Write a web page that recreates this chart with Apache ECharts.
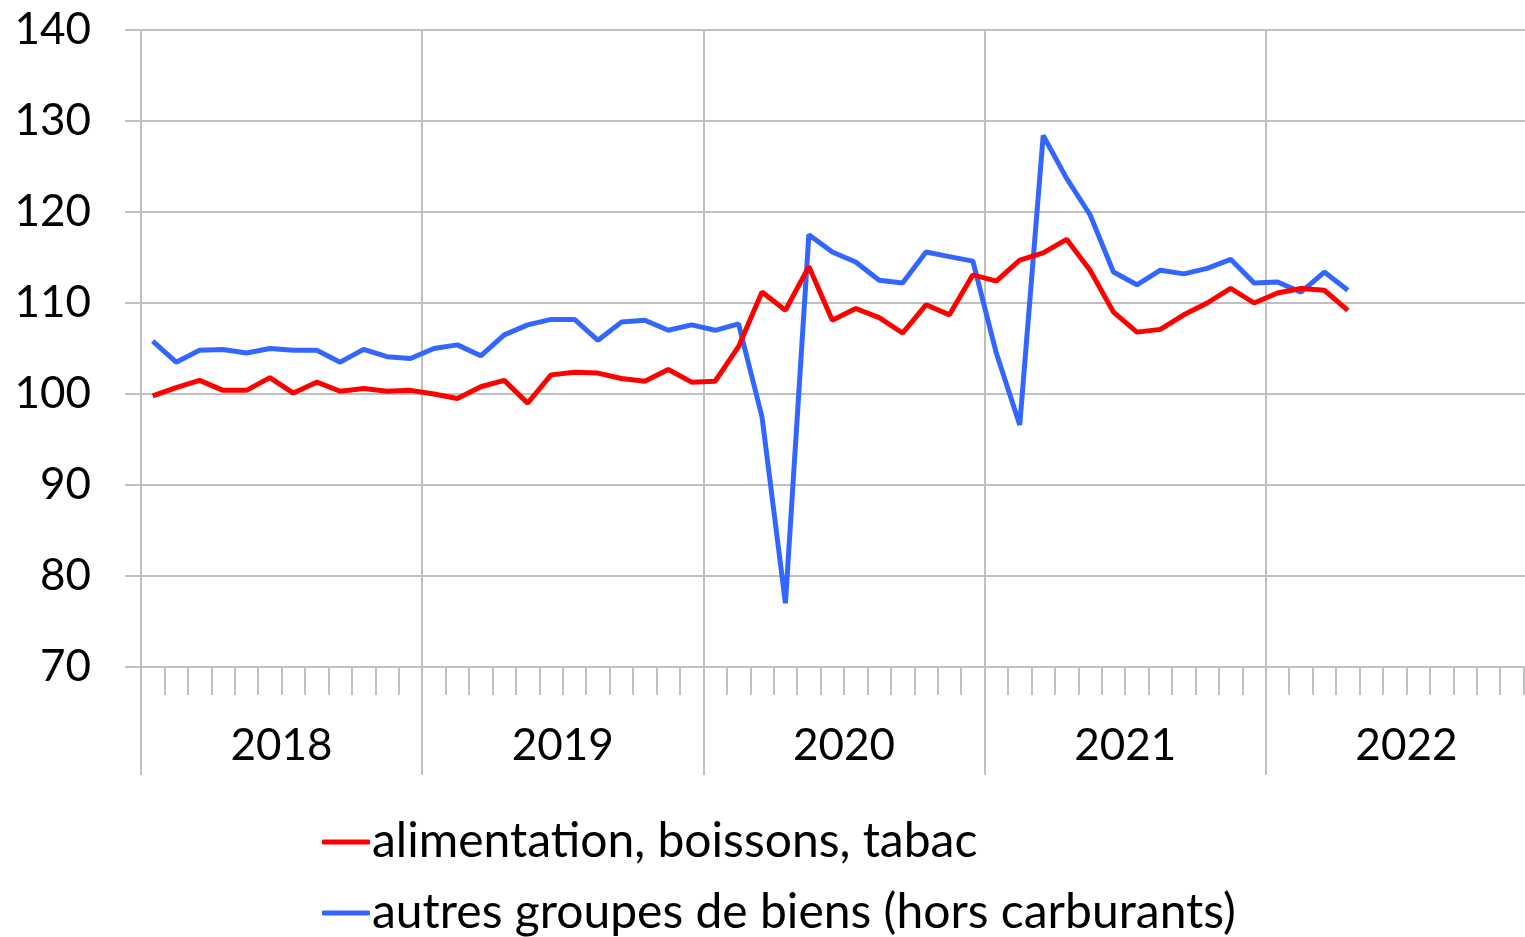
<!DOCTYPE html>
<html>
<head>
<meta charset="utf-8">
<script src="https://cdn.jsdelivr.net/npm/echarts@6/dist/echarts.min.js"></script>
<style>
  html, body { margin: 0; padding: 0; background: #fff; }
  #chart { width: 1525px; height: 937px; }
</style>
</head>
<body>
<div id="chart"></div>
<script>
  // années affichées sous l'axe
  var years = ['2018', '2019', '2020', '2021', '2022'];
  // catégories mensuelles (janvier 2018 -> décembre 2022)
  var months = [];
  years.forEach(function (y) {
    for (var m = 1; m <= 12; m++) months.push(y + '-' + (m < 10 ? '0' + m : m));
  });

  var seriesNames = ['alimentation, boissons, tabac', 'autres groupes de biens (hors carburants)'];

  var alimentation = [
    99.8, 100.7, 101.5, 100.4, 100.4, 101.8, 100.1, 101.3, 100.3, 100.6, 100.3, 100.4,
    100.0, 99.5, 100.8, 101.5, 99.0, 102.1, 102.4, 102.3, 101.7, 101.4, 102.7, 101.3,
    101.4, 105.2, 111.2, 109.2, 114.0, 108.1, 109.4, 108.4, 106.7, 109.8, 108.7, 113.1,
    112.4, 114.7, 115.5, 117.0, 113.6, 109.0, 106.8, 107.1, 108.7, 110.0, 111.6, 110.0,
    111.1, 111.6, 111.4, 109.2
  ];
  var autresBiens = [
    105.8, 103.5, 104.8, 104.9, 104.5, 105.0, 104.8, 104.8, 103.5, 104.9, 104.1, 103.9,
    105.0, 105.4, 104.2, 106.5, 107.6, 108.2, 108.2, 105.9, 107.9, 108.1, 107.0, 107.6,
    107.0, 107.7, 97.5, 77.0, 117.5, 115.6, 114.5, 112.5, 112.2, 115.6, 115.1, 114.6,
    104.5, 96.6, 128.4, 123.7, 119.7, 113.4, 112.0, 113.6, 113.2, 113.8, 114.8, 112.2,
    112.3, 111.2, 113.4, 111.4
  ];

  var gridColor = '#bfbfbf';
  var font = 'Lato, "Open Sans", sans-serif';

  function legendItem(name, top) {
    return {
      orient: 'vertical',
      left: 322,
      top: top,
      padding: 0,
      icon: 'roundRect',
      itemWidth: 48,
      itemHeight: 5,
      textStyle: { fontSize: 48, color: '#000', lineHeight: 50, fontFamily: font, padding: [0, 0, 0, -3] },
      data: [name]
    };
  }

  var chart = echarts.init(document.getElementById('chart'));
  chart.setOption({
    animation: false,
    backgroundColor: '#fff',
    textStyle: { fontFamily: font },
    grid: { left: 141, top: 30, right: -22, bottom: 270, outerBoundsMode: 'none' },
    legend: [
      legendItem(seriesNames[0], 817),
      legendItem(seriesNames[1], 888)
    ],
    xAxis: [
      {
        type: 'category',
        data: months,
        boundaryGap: true,
        axisLine: { show: true, lineStyle: { color: gridColor, width: 2 } },
        axisTick: { show: true, interval: 0, length: 28, lineStyle: { color: gridColor, width: 2 } },
        axisLabel: { show: false },
        splitLine: { show: false }
      },
      {
        type: 'category',
        data: years,
        position: 'bottom',
        boundaryGap: true,
        axisLine: { show: false },
        axisTick: { show: true, interval: 0, length: 108, lineStyle: { color: gridColor, width: 2 } },
        axisLabel: { fontSize: 44, color: '#000', margin: 57, fontFamily: font },
        splitLine: { show: true, interval: 0, lineStyle: { color: gridColor, width: 2 } }
      }
    ],
    yAxis: {
      type: 'value',
      min: 70,
      max: 140,
      interval: 10,
      axisLine: { show: false },
      axisTick: { show: true, length: 16, lineStyle: { color: gridColor, width: 2 } },
      axisLabel: { fontSize: 44, color: '#000', margin: 50, fontFamily: font },
      splitLine: { lineStyle: { color: gridColor, width: 2 } }
    },
    series: [
      {
        name: seriesNames[0],
        type: 'line',
        data: alimentation,
        symbol: 'none',
        lineStyle: { color: '#ff0000', width: 5 },
        itemStyle: { color: '#ff0000' },
        z: 3
      },
      {
        name: seriesNames[1],
        type: 'line',
        data: autresBiens,
        symbol: 'none',
        lineStyle: { color: '#3366ff', width: 5 },
        itemStyle: { color: '#3366ff' },
        z: 2
      }
    ]
  });
</script>
</body>
</html>
